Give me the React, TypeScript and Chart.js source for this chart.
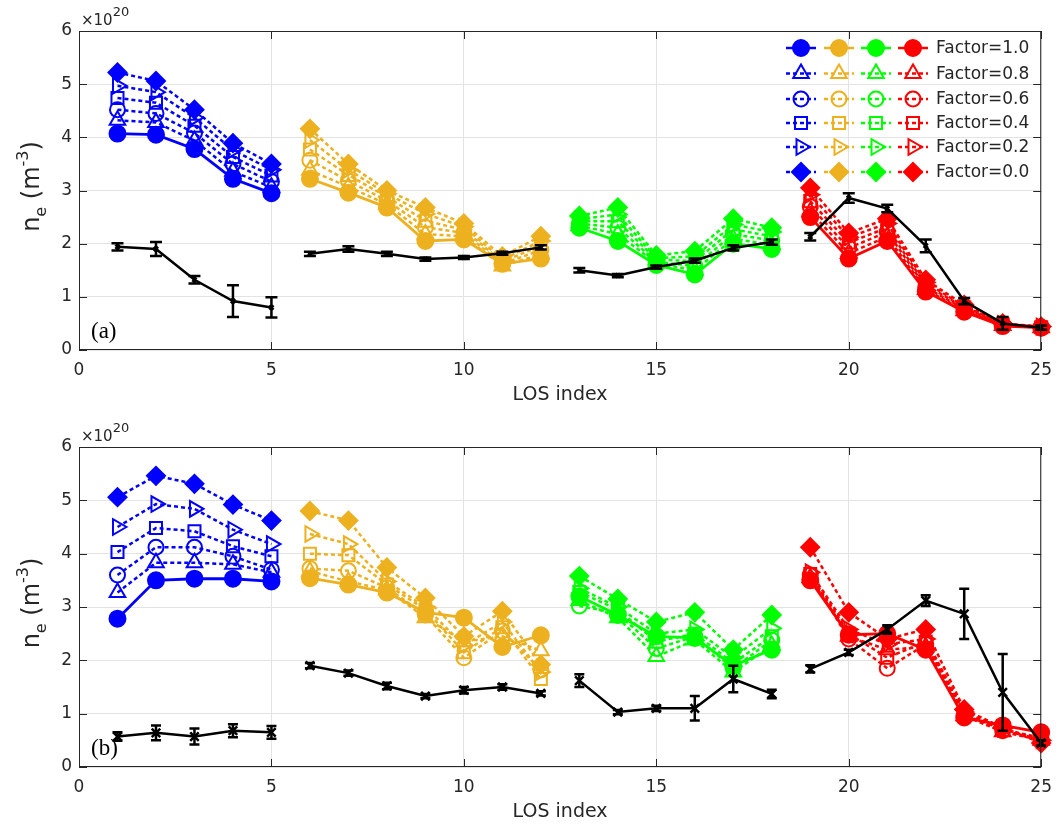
import React, { useEffect, useRef } from 'react';
import { Chart, registerables } from 'chart.js';

Chart.register(...registerables);

// ---------- data ----------
const losBlue = [1, 2, 3, 4, 5];
const losYellow = [6, 7, 8, 9, 10, 11, 12];
const losGreen = [13, 14, 15, 16, 17, 18];
const losRed = [19, 20, 21, 22, 23, 24, 25];
const factorLabels = ['Factor=1.0', 'Factor=0.8', 'Factor=0.6', 'Factor=0.4', 'Factor=0.2', 'Factor=0.0'];
const xTickValues = [0, 5, 10, 15, 20, 25];
const yTickValues = [0, 1, 2, 3, 4, 5, 6];

// Panel (a): rows = Factor 1.0, 0.8, 0.6, 0.4, 0.2, 0.0 ; columns follow the LOS list (x 1e20 m^-3)
const aBlue = [
  [4.07, 4.05, 3.78, 3.22, 2.95],
  [4.32, 4.28, 3.94, 3.36, 3.06],
  [4.52, 4.45, 4.08, 3.50, 3.17],
  [4.74, 4.65, 4.22, 3.63, 3.28],
  [4.97, 4.85, 4.37, 3.76, 3.39],
  [5.22, 5.06, 4.52, 3.89, 3.50],
];
const aYellow = [
  [3.22, 2.96, 2.68, 2.05, 2.08, 1.62, 1.72],
  [3.38, 3.07, 2.74, 2.18, 2.14, 1.58, 1.80],
  [3.57, 3.18, 2.81, 2.31, 2.20, 1.62, 1.88],
  [3.77, 3.29, 2.88, 2.43, 2.26, 1.66, 1.96],
  [3.95, 3.39, 2.94, 2.56, 2.32, 1.70, 2.05],
  [4.16, 3.50, 3.00, 2.68, 2.38, 1.76, 2.14],
];
const aGreen = [
  [2.30, 2.05, 1.60, 1.42, 2.00, 1.90],
  [2.34, 2.18, 1.63, 1.50, 2.09, 1.98],
  [2.38, 2.30, 1.66, 1.58, 2.18, 2.06],
  [2.42, 2.42, 1.70, 1.67, 2.27, 2.14],
  [2.46, 2.55, 1.73, 1.76, 2.36, 2.22],
  [2.52, 2.68, 1.78, 1.86, 2.47, 2.30],
];
const aRed = [
  [2.50, 1.72, 2.05, 1.10, 0.72, 0.45, 0.42],
  [2.60, 1.82, 2.13, 1.14, 0.74, 0.46, 0.42],
  [2.70, 1.92, 2.22, 1.18, 0.77, 0.47, 0.43],
  [2.80, 2.02, 2.30, 1.22, 0.80, 0.48, 0.43],
  [2.92, 2.12, 2.38, 1.27, 0.82, 0.49, 0.44],
  [3.05, 2.20, 2.47, 1.32, 0.85, 0.50, 0.44],
];
// measured (black) values for LOS 1..25 and their error bars
const aMeas = [1.94, 1.90, 1.32, 0.92, 0.80, 1.81, 1.90, 1.81, 1.71, 1.74, 1.82, 1.93, 1.50, 1.40, 1.56, 1.68, 1.92, 2.03, 2.13, 2.86, 2.66, 1.96, 0.92, 0.50, 0.42];
const aErr = [0.07, 0.13, 0.07, 0.30, 0.19, 0.04, 0.05, 0.04, 0.03, 0.03, 0.03, 0.04, 0.04, 0.03, 0.03, 0.04, 0.05, 0.05, 0.07, 0.09, 0.07, 0.12, 0.06, 0.12, 0.04];

// Panel (b)
const bBlue = [
  [2.78, 3.50, 3.53, 3.53, 3.48],
  [3.27, 3.83, 3.83, 3.80, 3.65],
  [3.60, 4.12, 4.12, 3.95, 3.70],
  [4.03, 4.48, 4.42, 4.14, 3.95],
  [4.50, 4.93, 4.84, 4.45, 4.18],
  [5.06, 5.46, 5.31, 4.92, 4.62],
];
const bYellow = [
  [3.54, 3.42, 3.27, 2.90, 2.80, 2.25, 2.47],
  [3.67, 3.48, 3.32, 2.80, 2.35, 2.45, 2.18],
  [3.72, 3.68, 3.36, 2.85, 2.05, 2.55, 1.82],
  [4.00, 3.97, 3.42, 2.95, 2.15, 2.62, 1.65],
  [4.37, 4.18, 3.48, 3.00, 2.28, 2.72, 1.78],
  [4.80, 4.62, 3.74, 3.17, 2.45, 2.92, 1.92],
];
const bGreen = [
  [3.20, 2.85, 2.45, 2.42, 1.90, 2.20],
  [3.12, 2.80, 2.07, 2.38, 1.78, 2.28],
  [3.02, 2.88, 2.22, 2.45, 1.85, 2.38],
  [3.28, 2.95, 2.35, 2.50, 1.95, 2.45],
  [3.35, 3.00, 2.50, 2.58, 2.05, 2.60],
  [3.58, 3.15, 2.72, 2.90, 2.20, 2.85],
];
const bRed = [
  [3.50, 2.48, 2.50, 2.20, 0.93, 0.78, 0.65],
  [3.55, 2.45, 2.20, 2.25, 0.96, 0.66, 0.50],
  [3.60, 2.40, 1.85, 2.30, 0.98, 0.68, 0.52],
  [3.62, 2.50, 2.05, 2.35, 1.00, 0.70, 0.55],
  [3.65, 2.58, 2.30, 2.40, 1.03, 0.72, 0.50],
  [4.12, 2.90, 2.40, 2.58, 1.08, 0.74, 0.45],
];
const bMeas = [0.57, 0.64, 0.57, 0.68, 0.65, 1.90, 1.76, 1.52, 1.33, 1.44, 1.50, 1.38, 1.62, 1.03, 1.10, 1.10, 1.65, 1.37, 1.84, 2.15, 2.58, 3.12, 2.87, 1.40, 0.45];
const bErr = [0.08, 0.14, 0.15, 0.12, 0.12, 0.05, 0.05, 0.06, 0.04, 0.06, 0.05, 0.04, 0.12, 0.04, 0.05, 0.23, 0.25, 0.08, 0.07, 0.05, 0.08, 0.10, 0.47, 0.72, 0.05];

// ---------- styles ----------
const groupLos = [losBlue, losYellow, losGreen, losRed];
const groupColors = ['#0000ff', '#edb120', '#00ff00', '#ff0000'];
const markerStyles = [
  { pointStyle: 'circle', rotation: 0, radius: 8, filled: true, dash: [] as number[] },
  { pointStyle: 'triangle', rotation: 0, radius: 9, filled: false, dash: [4, 3] },
  { pointStyle: 'circle', rotation: 0, radius: 7.5, filled: false, dash: [4, 3] },
  { pointStyle: 'rect', rotation: 0, radius: 8.5, filled: false, dash: [4, 3] },
  { pointStyle: 'triangle', rotation: 90, radius: 9, filled: false, dash: [4, 3] },
  { pointStyle: 'rectRot', rotation: 0, radius: 9, filled: true, dash: [4, 3] },
];
const TXT = '#262626';
const FONT = '"DejaVu Sans", "Liberation Sans", Arial, sans-serif';

function buildDatasets(colored: number[][][], meas: number[], err: number[], crossR: number) {
  const ds: any[] = [];
  groupLos.forEach((los) => {
    ds.push({
      label: 'meas',
      data: los.map((x) => ({ x, y: meas[x - 1] })),
      errs: los.map((x) => err[x - 1]),
      borderColor: '#000',
      borderWidth: 2.5,
      pointStyle: 'crossRot',
      pointRadius: crossR,
      pointBorderWidth: 2.5,
      pointBorderColor: '#000',
      pointBackgroundColor: '#000',
      order: 0,
      clip: false,
    });
  });
  groupLos.forEach((los, gi) => {
    colored[gi].forEach((row, fi) => {
      const st = markerStyles[fi];
      const c = groupColors[gi];
      ds.push({
        label: factorLabels[fi],
        data: los.map((x, i) => ({ x, y: row[i] })),
        borderColor: c,
        borderWidth: fi === 0 ? 2.8 : 2.5,
        borderDash: st.dash,
        pointStyle: st.pointStyle,
        pointRotation: st.rotation,
        pointRadius: st.radius,
        pointBorderWidth: 2,
        pointBorderColor: c,
        pointBackgroundColor: st.filled ? c : 'rgba(0,0,0,0)',
        order: 1 + fi,
        clip: false,
      });
    });
  });
  return ds;
}

function drawMarker(ctx: CanvasRenderingContext2D, style: string, x: number, y: number, r: number, rotDeg: number) {
  const rad = (rotDeg * Math.PI) / 180;
  ctx.beginPath();
  if (style === 'circle') {
    ctx.arc(x, y, r, 0, Math.PI * 2);
  } else if (style === 'triangle') {
    for (let k = 0; k < 3; k++) {
      const a = rad + (k * 2 * Math.PI) / 3;
      const px = x + Math.sin(a) * r;
      const py = y - Math.cos(a) * r;
      if (k === 0) ctx.moveTo(px, py);
      else ctx.lineTo(px, py);
    }
    ctx.closePath();
  } else if (style === 'rect') {
    const s = r * Math.SQRT1_2;
    ctx.rect(x - s, y - s, 2 * s, 2 * s);
  } else if (style === 'rectRot') {
    ctx.moveTo(x - r, y);
    ctx.lineTo(x, y - r);
    ctx.lineTo(x + r, y);
    ctx.lineTo(x, y + r);
    ctx.closePath();
  }
}

const errorBarPlugin = {
  id: 'errbars',
  afterDatasetsDraw(chart: any) {
    const { ctx } = chart;
    const xs = chart.scales.x;
    const ys = chart.scales.y;
    const cap = chart.options.plugins.errbars?.cap ?? 6;
    chart.data.datasets.forEach((ds: any) => {
      if (!ds.errs) return;
      ctx.save();
      ctx.strokeStyle = '#000';
      ctx.lineWidth = 2.5;
      ds.data.forEach((p: any, i: number) => {
        const e = ds.errs[i];
        const px = xs.getPixelForValue(p.x);
        const y1 = ys.getPixelForValue(p.y - e);
        const y2 = ys.getPixelForValue(p.y + e);
        ctx.beginPath();
        ctx.moveTo(px, y1);
        ctx.lineTo(px, y2);
        ctx.moveTo(px - cap, y1);
        ctx.lineTo(px + cap, y1);
        ctx.moveTo(px - cap, y2);
        ctx.lineTo(px + cap, y2);
        ctx.stroke();
      });
      ctx.restore();
    });
  },
};

const boxPlugin = {
  id: 'box',
  afterDatasetsDraw(chart: any) {
    const { ctx, chartArea: a } = chart;
    const xs = chart.scales.x;
    const ys = chart.scales.y;
    ctx.save();
    ctx.strokeStyle = TXT;
    ctx.lineWidth = 1;
    ctx.strokeRect(a.left + 0.5, a.top + 0.5, a.right - a.left - 1, a.bottom - a.top - 1);
    ctx.beginPath();
    const tl = 8;
    xTickValues.forEach((v) => {
      const px = Math.round(xs.getPixelForValue(v)) + 0.5;
      ctx.moveTo(px, a.bottom);
      ctx.lineTo(px, a.bottom - tl);
      ctx.moveTo(px, a.top);
      ctx.lineTo(px, a.top + tl);
    });
    yTickValues.forEach((v) => {
      const py = Math.round(ys.getPixelForValue(v)) + 0.5;
      ctx.moveTo(a.left, py);
      ctx.lineTo(a.left + tl, py);
      ctx.moveTo(a.right, py);
      ctx.lineTo(a.right - tl, py);
    });
    ctx.stroke();
    ctx.restore();
  },
};

function makeTextPlugin(panelLabel: string, withLegend: boolean) {
  return {
    id: 'texts',
    afterDraw(chart: any) {
      const { ctx, chartArea: a } = chart;
      ctx.save();
      ctx.fillStyle = TXT;
      // x 10^20 multiplier
      ctx.textBaseline = 'alphabetic';
      ctx.textAlign = 'left';
      ctx.font = `15px ${FONT}`;
      const base = a.top - 6;
      ctx.fillText('\u00d710', a.left + 2, base);
      const w = ctx.measureText('\u00d710').width;
      ctx.font = `13px ${FONT}`;
      ctx.fillText('20', a.left + 2 + w, base - 9);

      // x axis title
      ctx.font = `19px ${FONT}`;
      ctx.textAlign = 'center';
      ctx.textBaseline = 'middle';
      ctx.fillText('LOS index', (a.left + a.right) / 2, a.bottom + 45);

      // y axis title n_e (m^-3)
      const parts = [
        { t: 'n', f: `24px ${FONT}`, dy: 0 },
        { t: 'e', f: `16px ${FONT}`, dy: 7 },
        { t: ' (m', f: `24px ${FONT}`, dy: 0 },
        { t: '-3', f: `16px ${FONT}`, dy: -11 },
        { t: ')', f: `24px ${FONT}`, dy: 0 },
      ];
      let W = 0;
      parts.forEach((p) => {
        ctx.font = p.f;
        W += ctx.measureText(p.t).width;
      });
      ctx.save();
      ctx.translate(39, (a.top + a.bottom) / 2 - 4);
      ctx.rotate(-Math.PI / 2);
      ctx.textAlign = 'left';
      ctx.textBaseline = 'alphabetic';
      let cx = -W / 2;
      parts.forEach((p) => {
        ctx.font = p.f;
        ctx.fillText(p.t, cx, p.dy);
        cx += ctx.measureText(p.t).width;
      });
      ctx.restore();

      // panel label
      ctx.font = '23px "Liberation Serif", "Times New Roman", serif';
      ctx.textAlign = 'left';
      ctx.textBaseline = 'alphabetic';
      ctx.fillStyle = '#000';
      ctx.fillText(panelLabel, a.left + 12, a.bottom - 12);

      // legend
      if (withLegend) {
        const colX = [801, 839, 876, 913];
        const rowY = [48, 73.5, 99, 123, 147, 172];
        factorLabels.forEach((lab, fi) => {
          const st = markerStyles[fi];
          groupColors.forEach((c, gi) => {
            const x = colX[gi];
            const y = rowY[fi];
            ctx.save();
            ctx.strokeStyle = c;
            ctx.lineWidth = 2.5;
            ctx.setLineDash(st.dash);
            ctx.beginPath();
            ctx.moveTo(x - 15, y);
            ctx.lineTo(x + 15, y);
            ctx.stroke();
            ctx.setLineDash([]);
            ctx.lineWidth = 2;
            drawMarker(ctx, st.pointStyle, x, y, st.radius, st.rotation);
            if (st.filled) {
              ctx.fillStyle = c;
              ctx.fill();
            }
            ctx.stroke();
            ctx.restore();
          });
          ctx.fillStyle = TXT;
          ctx.font = `17px ${FONT}`;
          ctx.textAlign = 'left';
          ctx.textBaseline = 'middle';
          ctx.fillText(lab, 936, rowY[fi] + 1);
        });
      }
      ctx.restore();
    },
  };
}

function Panel(props: { colored: number[][][]; meas: number[]; err: number[]; label: string; legend: boolean; top: number; padTop: number; crossR: number; cap: number }) {
  const ref = useRef<HTMLCanvasElement>(null);
  useEffect(() => {
    if (!ref.current) return;
    const chart = new Chart(ref.current, {
      type: 'line',
      data: { datasets: buildDatasets(props.colored, props.meas, props.err, props.crossR) },
      options: {
        animation: false,
        responsive: false,
        devicePixelRatio: 1,
        layout: { padding: { top: props.padTop, right: 15, left: 0, bottom: 0 } },
        plugins: {
          legend: { display: false },
          tooltip: { enabled: false },
          title: { display: false },
          errbars: { cap: props.cap },
        } as any,
        scales: {
          x: {
            type: 'linear',
            min: 0,
            max: 25,
            afterBuildTicks: (s: any) => {
              s.ticks = xTickValues.map((v) => ({ value: v }));
            },
            ticks: { color: TXT, font: { family: FONT, size: 17 }, padding: 10, maxRotation: 0, autoSkip: false },
            grid: { color: '#e3e3e3', drawTicks: false, lineWidth: 1 },
            border: { display: false },
            afterFit: (s: any) => {
              s.height = 68;
            },
          },
          y: {
            type: 'linear',
            min: 0,
            max: 6,
            afterBuildTicks: (s: any) => {
              s.ticks = yTickValues.map((v) => ({ value: v }));
            },
            ticks: { color: TXT, font: { family: FONT, size: 17 }, padding: 7 },
            grid: { color: '#e3e3e3', drawTicks: false, lineWidth: 1 },
            border: { display: false },
            afterFit: (s: any) => {
              s.width = 79;
            },
          },
        },
      } as any,
      plugins: [errorBarPlugin, boxPlugin, makeTextPlugin(props.label, props.legend)],
    });
    return () => chart.destroy();
  }, []);
  return (
    <canvas
      ref={ref}
      width={1062}
      height={418}
      style={{ position: 'absolute', left: 0, top: props.top, width: 1062, height: 418, display: 'block' }}
    />
  );
}

export default function App() {
  return (
    <div style={{ position: 'absolute', left: 0, top: 0, width: 1062, height: 836, background: '#fff', overflow: 'hidden' }}>
      <Panel colored={[aBlue, aYellow, aGreen, aRed]} meas={aMeas} err={aErr} label="(a)" legend={true} top={0} padTop={31} crossR={3} cap={6} />
      <Panel colored={[bBlue, bYellow, bGreen, bRed]} meas={bMeas} err={bErr} label="(b)" legend={false} top={417} padTop={30} crossR={6} cap={5} />
    </div>
  );
}
